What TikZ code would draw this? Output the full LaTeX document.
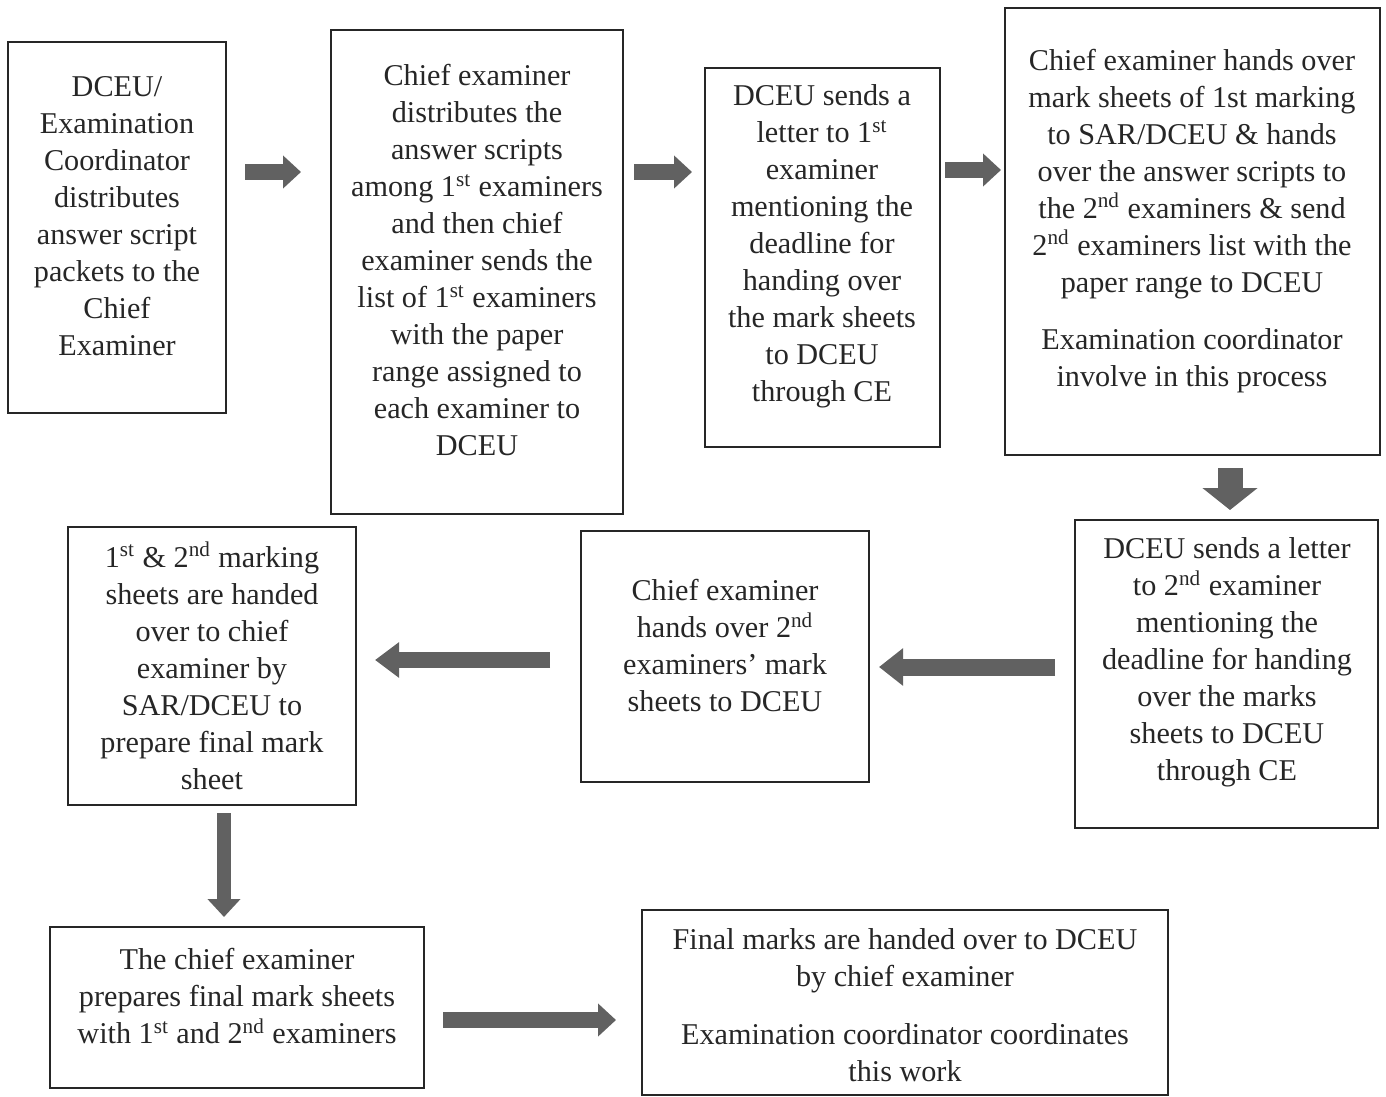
\documentclass[tikz,border=0pt]{standalone}
\usepackage{fontspec}
\setmainfont{Liberation Serif}
\usetikzlibrary{arrows.meta,calc}
\tikzset{
  box/.style={draw=black!85, line width=1.3pt, rectangle, inner sep=0pt},
  txt/.style={align=center, inner sep=0pt, font=\fontsize{15.1}{18.5}\selectfont, text=black!85},
  barrow/.style={draw=black!62, line width=8pt, -{Triangle[width=16pt,length=9pt]}},
  barrowwide/.style={draw=black!62, line width=12.5pt, -{Triangle[width=27pt,length=11pt]}},
}
\newcommand{\sups}[1]{\textsuperscript{#1}}
\begin{document}
\begin{tikzpicture}[x=0.5pt,y=-0.5pt]
\useasboundingbox (0,0) rectangle (1386,1097);
% boxes
\node[box, minimum width=109pt, minimum height=185.5pt] (b1) at (117,227.5) {};
\node[box, minimum width=146pt, minimum height=242pt] (b2) at (477,272) {};
\node[box, minimum width=117.5pt, minimum height=189.5pt] (b3) at (822.5,257.5) {};
\node[box, minimum width=187.5pt, minimum height=223.5pt] (b4) at (1192.5,231.5) {};
\node[box, minimum width=151.5pt, minimum height=154pt] (b5) at (1226.5,674) {};
\node[box, minimum width=144pt, minimum height=125.5pt] (b6) at (725,656.5) {};
\node[box, minimum width=144pt, minimum height=139pt] (b7) at (212,666) {};
\node[box, minimum width=187pt, minimum height=80.5pt] (b8) at (237,1007.5) {};
\node[box, minimum width=263pt, minimum height=92.5pt] (b9) at (905,1002.5) {};
% texts
\node[txt] (t1) at (117,216) {DCEU/\\Examination\\Coordinator\\distributes\\answer script\\packets to the\\Chief\\Examiner};
\node[txt] (t2) at (477,260) {Chief examiner\\distributes the\\answer scripts\\among 1\sups{st} examiners\\and then chief\\examiner sends the\\list of 1\sups{st} examiners\\with the paper\\range assigned to\\each examiner to\\DCEU};
\node[txt] (t3) at (822,246.5) {DCEU sends a\\letter to 1\sups{st}\\examiner\\mentioning the\\deadline for\\handing over\\the mark sheets\\to DCEU\\through CE};
\node[txt] (t4) at (1192,221) {Chief examiner hands over\\mark sheets of 1st marking\\to SAR/DCEU \& hands\\over the answer scripts to\\the 2\sups{nd} examiners \& send\\2\sups{nd} examiners list with the\\paper range to DCEU\\[10pt]Examination coordinator\\involve in this process};
\node[txt] (t5) at (1227,662.5) {DCEU sends a letter\\to 2\sups{nd} examiner\\mentioning the\\deadline for handing\\over the marks\\sheets to DCEU\\through CE};
\node[txt] (t6) at (725,645.5) {Chief examiner\\hands over 2\sups{nd}\\examiners' mark\\sheets to DCEU};
\node[txt] (t7) at (212,666) {1\sups{st} \& 2\sups{nd} marking\\sheets are handed\\over to chief\\examiner by\\SAR/DCEU to\\prepare final mark\\sheet};
\node[txt] (t8) at (237,996.5) {The chief examiner\\prepares final mark sheets\\with 1\sups{st} and 2\sups{nd} examiners};
\node[txt] (t9) at (905,1005) {Final marks are handed over to DCEU\\by chief examiner\\[10.5pt]Examination coordinator coordinates\\this work};
% arrow end points
\coordinate (a1s) at (245,172); \coordinate (a1e) at (301,172);
\coordinate (a2s) at (634,172); \coordinate (a2e) at (692,172);
\coordinate (a3s) at (945,170); \coordinate (a3e) at (1001,170);
\coordinate (a4s) at (1230,468); \coordinate (a4e) at (1230,510);
\coordinate (a5s) at (1055,667); \coordinate (a5e) at (879,667);
\coordinate (a6s) at (550,660); \coordinate (a6e) at (375,660);
\coordinate (a7s) at (224,813); \coordinate (a7e) at (224,917);
\coordinate (a8s) at (443,1020); \coordinate (a8e) at (616,1020);
\draw[barrow] (a1s) -- (a1e);
\draw[barrow] (a2s) -- (a2e);
\draw[barrow] (a3s) -- (a3e);
\draw[barrowwide] (a4s) -- (a4e);
\draw[draw=black!62, line width=8.5pt, -{Triangle[width=18pt,length=12pt]}] (a5s) -- (a5e);
\draw[draw=black!62, line width=8pt, -{Triangle[width=17pt,length=12pt]}] (a6s) -- (a6e);
\draw[draw=black!62, line width=7pt, -{Triangle[width=16pt,length=9pt]}] (a7s) -- (a7e);
\draw[barrow] (a8s) -- (a8e);
\end{tikzpicture}
\end{document}
